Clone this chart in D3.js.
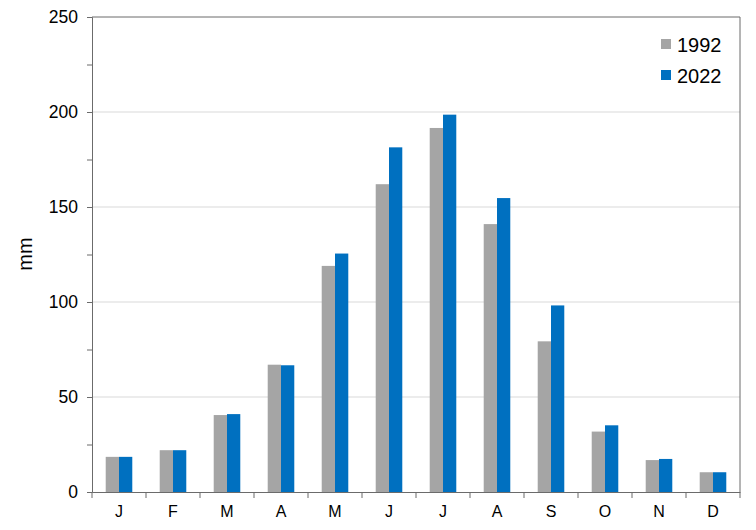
<!DOCTYPE html>
<html><head><meta charset="utf-8">
<script src="https://cdn.jsdelivr.net/npm/d3@7"></script>
<style>body{margin:0;background:#fff}svg{display:block;font-family:"Liberation Sans",Arial,sans-serif}</style>
</head><body><svg id="c" width="756" height="530"></svg>
<script>
const months = ["J","F","M","A","M","J","J","A","S","O","N","D"];
const seriesNames = ["1992","2022"];
const values1992 = [18.5,22,40.5,67,119,162,191.6,141,79.3,31.8,16.8,10.4];
const values2022 = [18.5,22,41,66.7,125.5,181.4,198.6,154.7,98.2,35.1,17.4,10.4];
const colors = ["#a5a5a5","#0070c0"];
const yTicks = [0,50,100,150,200,250];

const svg = d3.select("#c");
const L=92,R=740,T=17,B=492;
const x = d3.scaleBand().domain(d3.range(12)).range([L,R]).paddingInner(0).paddingOuter(0);
const y = d3.scaleLinear().domain([0,250]).range([B,T]);
const bw = x.bandwidth()*0.246;
const FF = "Liberation Sans, Arial, sans-serif";

// gridlines
svg.append("g").selectAll("line").data([50,100,150,200]).join("line")
  .attr("x1",L).attr("x2",R).attr("y1",d=>y(d)).attr("y2",d=>y(d))
  .attr("stroke","#d9d9d9").attr("stroke-width",1);

// bars
const data = months.map((m,i)=>({i,v:[values1992[i],values2022[i]]}));
const g = svg.append("g");
data.forEach(d=>{
  d.v.forEach((v,s)=>{
    const cx = x(d.i)+x.bandwidth()/2;
    g.append("rect").attr("x",cx-bw+s*bw).attr("width",bw)
      .attr("y",y(v)).attr("height",B-y(v)).attr("fill",colors[s]);
  });
});

const axisColor="#6b6b6b";
// y axis
const ya = svg.append("g").attr("transform",`translate(${L},0)`)
  .call(d3.axisLeft(y).tickValues(d3.range(0,251,25)).tickSize(5).tickFormat(d=>yTicks.includes(d)?d:""));
ya.select(".domain").attr("stroke",axisColor);
ya.selectAll(".tick line").attr("stroke",axisColor);
ya.selectAll("text").attr("font-size",17.5).attr("fill","#000").attr("font-family",FF).attr("x",-14);

// x axis
const xa = svg.append("g").attr("transform",`translate(0,${B})`)
  .call(d3.axisBottom(x).tickSize(0).tickFormat(i=>months[i]));
xa.select(".domain").attr("stroke",axisColor);
xa.selectAll("text").attr("font-size",16).attr("fill","#000").attr("font-family",FF).attr("y",25).attr("dy",0);
svg.append("g").selectAll("line").data(d3.range(13)).join("line")
  .attr("x1",i=>i<12?x(i):R).attr("x2",i=>i<12?x(i):R).attr("y1",B).attr("y2",B+6).attr("stroke",axisColor);

// frame top & right
svg.append("line").attr("x1",L).attr("x2",R).attr("y1",T).attr("y2",T).attr("stroke",axisColor);
svg.append("line").attr("x1",R).attr("x2",R).attr("y1",T).attr("y2",B).attr("stroke",axisColor);

// y title
svg.append("text").attr("transform","translate(32,254) rotate(-90)").attr("text-anchor","middle")
  .attr("font-size",20).text("mm");

// legend
const lg = svg.append("g");
seriesNames.forEach((n,i)=>{
  lg.append("rect").attr("x",661).attr("y",39+i*31).attr("width",10).attr("height",10).attr("fill",colors[i]);
  lg.append("text").attr("x",677).attr("y",52+i*31).attr("font-size",20).text(n);
});
</script></body></html>
